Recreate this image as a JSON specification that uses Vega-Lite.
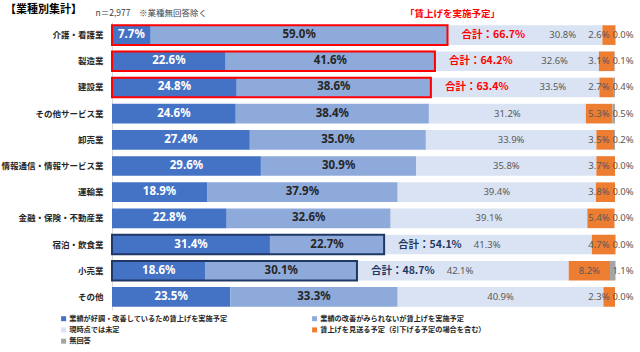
{
  "$schema": "https://vega.github.io/schema/vega-lite/v6.json",
  "width": 503,
  "height": 288,
  "autosize": {"type": "none"},
  "padding": {"left": 112, "top": 22, "right": 25, "bottom": 42},
  "background": "white",
  "title": {
    "text": "【業種別集計】",
    "anchor": "start",
    "frame": "group",
    "dx": -107,
    "dy": 13,
    "fontSize": 11,
    "fontWeight": "bold",
    "font": "Noto Sans CJK JP",
    "color": "#000000",
    "baseline": "middle",
    "offset": 0
  },
  "data": {
    "values": [
      {"cat": "介護・看護業", "a": 7.7, "b": 59.0, "c": 30.8, "d": 2.6, "e": 0.0, "rank": "上位"},
      {"cat": "製造業", "a": 22.6, "b": 41.6, "c": 32.6, "d": 3.1, "e": 0.1, "rank": "上位"},
      {"cat": "建設業", "a": 24.8, "b": 38.6, "c": 33.5, "d": 2.7, "e": 0.4, "rank": "上位"},
      {"cat": "その他サービス業", "a": 24.6, "b": 38.4, "c": 31.2, "d": 5.3, "e": 0.5, "rank": null},
      {"cat": "卸売業", "a": 27.4, "b": 35.0, "c": 33.9, "d": 3.5, "e": 0.2, "rank": null},
      {"cat": "情報通信・情報サービス業", "a": 29.6, "b": 30.9, "c": 35.8, "d": 3.7, "e": 0.0, "rank": null},
      {"cat": "運輸業", "a": 18.9, "b": 37.9, "c": 39.4, "d": 3.8, "e": 0.0, "rank": null},
      {"cat": "金融・保険・不動産業", "a": 22.8, "b": 32.6, "c": 39.1, "d": 5.4, "e": 0.0, "rank": null},
      {"cat": "宿泊・飲食業", "a": 31.4, "b": 22.7, "c": 41.3, "d": 4.7, "e": 0.0, "rank": "下位"},
      {"cat": "小売業", "a": 18.6, "b": 30.1, "c": 42.1, "d": 8.2, "e": 1.1, "rank": "下位"},
      {"cat": "その他", "a": 23.5, "b": 33.3, "c": 40.9, "d": 2.3, "e": 0.0, "rank": null}
    ]
  },
  "encoding": {
    "y": {
      "field": "cat",
      "type": "nominal",
      "sort": null,
      "scale": {"paddingInner": 0.25, "paddingOuter": 0.125},
      "axis": {
        "title": "n＝2,977　※業種無回答除く",
        "titleAngle": 0,
        "titleX": -17,
        "titleY": -10,
        "titleAlign": "left",
        "titleBaseline": "middle",
        "titleFontSize": 8.5,
        "titleFontWeight": "normal",
        "titleColor": "#404040",
        "titleFont": "Noto Sans CJK JP",
        "domain": true,
        "domainColor": "#d9d9d9",
        "ticks": false,
        "grid": false,
        "labelFont": "Noto Sans CJK JP",
        "labelFontSize": 8.5,
        "labelFontWeight": "bold",
        "labelColor": "#262626",
        "labelPadding": 9
      }
    }
  },
  "layer": [
    {
      "transform": [
        {"fold": ["a", "b", "c", "d", "e"], "as": ["key", "value"]},
        {"calculate": "indexof(['a','b','c','d','e'], datum.key)", "as": "ord"},
        {"stack": "value", "groupby": ["cat"], "sort": [{"field": "ord", "order": "ascending"}], "as": ["x0", "x1"]}
      ],
      "mark": {"type": "bar"},
      "encoding": {
        "x": {
          "field": "x0",
          "type": "quantitative",
          "scale": {"domain": [0, 100], "nice": false},
          "axis": {
            "orient": "top",
            "title": "「賃上げを実施予定」",
            "titleX": 340,
            "titleY": -9,
            "titleAlign": "center",
            "titleBaseline": "middle",
            "titleColor": "#ff0000",
            "titleFontSize": 9.5,
            "titleFontWeight": "bold",
            "titleFont": "Noto Sans CJK JP",
            "labels": false,
            "ticks": false,
            "domain": false,
            "grid": false
          }
        },
        "x2": {"field": "x1"},
        "color": {
          "field": "key",
          "type": "nominal",
          "scale": {
            "domain": ["a", "b", "c", "d", "e"],
            "range": ["#4472c4", "#8eaadb", "#dae3f3", "#ed7d31", "#a5a5a5"]
          },
          "legend": {
            "title": null,
            "orient": "none",
            "legendX": -52,
            "legendY": 293,
            "columns": 2,
            "direction": "horizontal",
            "columnPadding": 83,
            "rowPadding": 3.3,
            "symbolType": "square",
            "symbolSize": 25,
            "symbolStrokeWidth": 0,
            "labelOffset": 2,
            "labelFont": "Noto Sans CJK JP",
            "labelFontSize": 7.2,
            "labelFontWeight": "bold",
            "labelColor": "#262626",
            "labelLimit": 400,
            "labelExpr": "{'a':'業績が好調・改善しているため賃上げを実施予定','b':'業績の改善がみられないが賃上げを実施予定','c':'現時点では未定','d':'賃上げを見送る予定（引下げる予定の場合を含む）','e':'無回答'}[datum.label]"
          }
        }
      }
    },
    {
      "transform": [
        {"filter": "datum.rank != null"},
        {"calculate": "datum.a + datum.b", "as": "total"}
      ],
      "mark": {"type": "bar", "fill": null, "fillOpacity": 0, "strokeWidth": 2},
      "encoding": {
        "x": {"field": "total", "type": "quantitative"},
        "x2": {"datum": 0},
        "stroke": {
          "field": "rank",
          "type": "nominal",
          "scale": {"domain": ["上位", "下位"], "range": ["#ff0000", "#1f3864"]},
          "legend": null
        }
      }
    },
    {
      "transform": [
        {"fold": ["a", "b"], "as": ["key", "value"]},
        {"calculate": "indexof(['a','b'], datum.key)", "as": "ord"},
        {"stack": "value", "groupby": ["cat"], "sort": [{"field": "ord", "order": "ascending"}], "as": ["x0", "x1"]},
        {"calculate": "(datum.x0 + datum.x1) / 2", "as": "mid"},
        {"calculate": "format(datum.value, '.1f') + '%'", "as": "lab"}
      ],
      "mark": {"type": "text", "font": "Noto Sans", "fontSize": 11.5, "fontWeight": "bold", "baseline": "middle", "align": "center"},
      "encoding": {
        "x": {"field": "mid", "type": "quantitative"},
        "text": {"field": "lab"},
        "color": {"condition": {"test": "datum.key == 'a'", "value": "#ffffff"}, "value": "#262626"}
      }
    },
    {
      "transform": [
        {"calculate": "datum.a + datum.b", "as": "total"},
        {"fold": ["a", "b", "c", "d", "e"], "as": ["key", "value"]},
        {"calculate": "indexof(['a','b','c','d','e'], datum.key)", "as": "ord"},
        {"stack": "value", "groupby": ["cat"], "sort": [{"field": "ord", "order": "ascending"}], "as": ["x0", "x1"]},
        {"filter": "datum.ord >= 2"},
        {"calculate": "datum.key == 'c' ? (datum.rank == '上位' ? (datum.total + 15 + datum.x1) / 2 : (datum.rank == '下位' ? datum.total + 20.5 : (datum.x0 + datum.x1) / 2)) : (datum.key == 'd' ? min((datum.x0 + datum.x1) / 2, 96.8) : 101.6)", "as": "lx"},
        {"calculate": "format(datum.value, '.1f') + '%'", "as": "lab"}
      ],
      "mark": {"type": "text", "font": "Noto Sans", "fontSize": 9.5, "baseline": "middle", "align": "center", "color": "#595959"},
      "encoding": {
        "x": {"field": "lx", "type": "quantitative"},
        "text": {"field": "lab"}
      }
    },
    {
      "transform": [
        {"filter": "datum.rank != null"},
        {"calculate": "datum.a + datum.b", "as": "total"},
        {"calculate": "'合計：' + format(datum.total, '.1f') + '%'", "as": "lab"}
      ],
      "mark": {"type": "text", "font": "Noto Sans CJK JP", "fontSize": 10.5, "fontWeight": "bold", "baseline": "middle", "align": "left", "dx": 14},
      "encoding": {
        "x": {"field": "total", "type": "quantitative"},
        "text": {"field": "lab"},
        "color": {"condition": {"test": "datum.rank == '上位'", "value": "#ff0000"}, "value": "#1f3864"}
      }
    }
  ],
  "config": {
    "view": {"stroke": null}
  }
}
